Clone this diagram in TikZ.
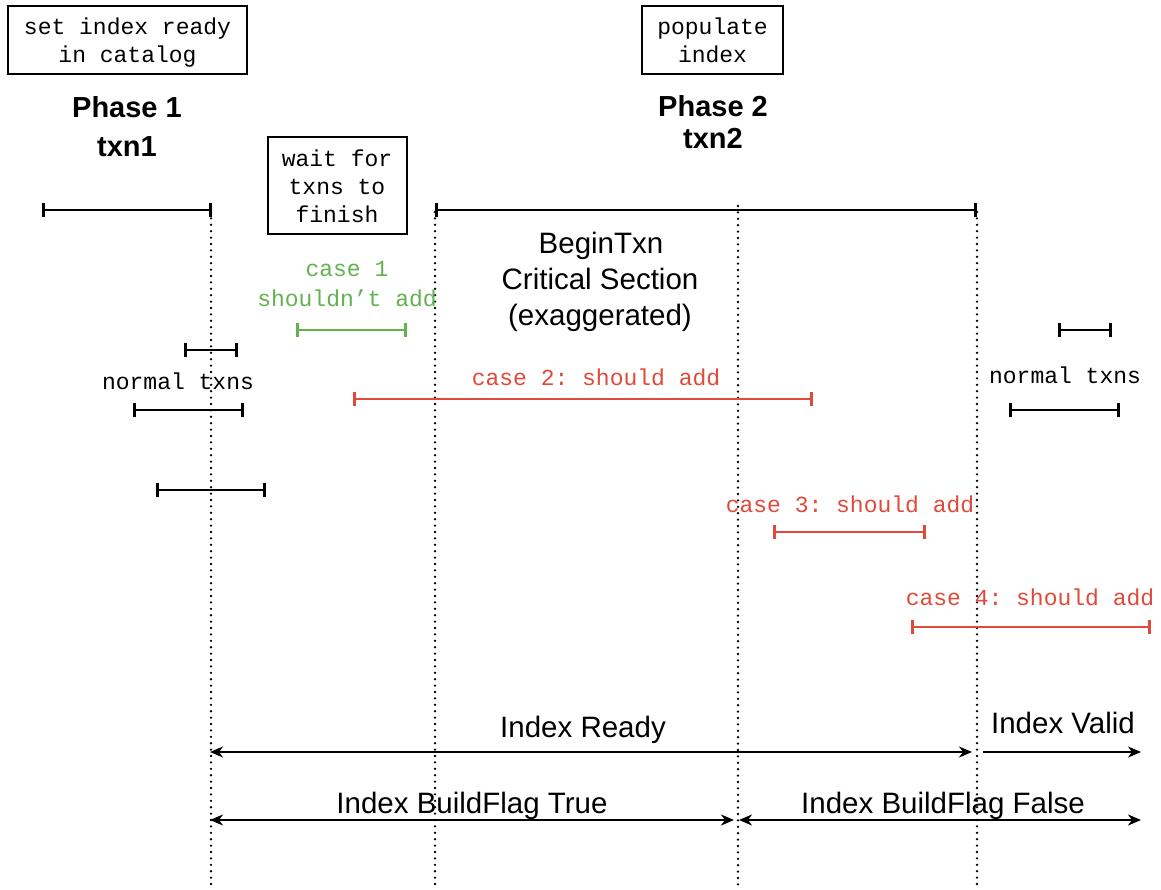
\documentclass[tikz,border=0pt]{standalone}
\usepackage{fontspec}
\setmainfont{Liberation Sans}
\setsansfont{Liberation Sans}
\setmonofont{Liberation Mono}
\usetikzlibrary{arrows.meta}
\definecolor{caseok}{RGB}{98,178,80}
\definecolor{caseadd}{RGB}{224,74,58}

\begin{document}
\begin{tikzpicture}[x=1pt,y=-1pt,
  mono/.style={font=\fontsize{23}{28}\selectfont\ttfamily, inner sep=0pt, align=center},
  sanslbl/.style={font=\fontsize{29.5}{36}\selectfont\sffamily, inner sep=0pt},
  phase/.style={font=\fontsize{29}{36}\selectfont\sffamily\bfseries, inner sep=0pt},
  stepbox/.style={draw, line width=2pt, inner sep=0pt, align=center,
    font=\fontsize{23}{28}\selectfont\ttfamily},
  span/.style={line width=2.6pt, {Bar[width=14pt]}-{Bar[width=14pt]}},
  vline/.style={line width=2.6pt, line cap=round, dash pattern=on 0pt off 6.4pt},
  both/.style={line width=2.2pt, {Stealth[length=13pt,width=11pt,inset=4pt]}-{Stealth[length=13pt,width=11pt,inset=4pt]}},
  fwd/.style={line width=2.2pt, -{Stealth[length=13pt,width=11pt,inset=4pt]}}]

\useasboundingbox (0,0) rectangle (1161,890);
\fill[white] (0,0) rectangle (1161,890);

% step boxes
\node[stepbox, minimum width=239pt, minimum height=68pt] (ready) at (127.5,40) {\rule{0pt}{21pt}set index ready\\in catalog};
\node[stepbox, minimum width=141pt, minimum height=68pt] (populate) at (712.5,40) {populate\\index};
\node[stepbox, minimum width=139pt, minimum height=97pt] (wait) at (337,186) {\rule{0pt}{18pt}wait for\\txns to\\finish};

% phase headings
\node[phase, anchor=base] (ph1) at (127,118) {Phase 1};
\node[phase, anchor=base] (tx1) at (127,157) {txn1};
\node[phase, anchor=base] (ph2) at (713,117) {Phase 2};
\node[phase, anchor=base] (tx2) at (713,149) {txn2};

% vertical time markers
\coordinate (m1t) at (211,212); \coordinate (m1b) at (211,885);
\coordinate (m2t) at (435,212); \coordinate (m2b) at (435,885);
\coordinate (m3t) at (738,206); \coordinate (m3b) at (738,885);
\coordinate (m4t) at (977,212); \coordinate (m4b) at (977,885);
\draw[vline] (m1t) -- (m1b);
\draw[vline] (m2t) -- (m2b);
\draw[vline] (m3t) -- (m3b);
\draw[vline] (m4t) -- (m4b);

% phase spans
\coordinate (s1a) at (42,210); \coordinate (s1b) at (212,210);
\coordinate (s2a) at (435,210); \coordinate (s2b) at (977,210);
\draw[span] (s1a) -- (s1b);
\draw[span] (s2a) -- (s2b);

% critical section label
\node[sanslbl, anchor=base] (bt1) at (601,254) {BeginTxn};
\node[sanslbl, anchor=base] (bt2) at (600,290) {Critical Section};
\node[sanslbl, anchor=base] (bt3) at (600,326) {(exaggerated)};

% normal txns, left
\coordinate (l1a) at (184,350); \coordinate (l1b) at (238,350);
\coordinate (l2a) at (133,410); \coordinate (l2b) at (244,410);
\coordinate (l3a) at (156,490); \coordinate (l3b) at (266,490);
\draw[span] (l1a) -- (l1b);
\draw[span] (l2a) -- (l2b);
\draw[span] (l3a) -- (l3b);
\node[mono, anchor=base] (nl) at (178,389) {normal txns};

% normal txns, right
\coordinate (r1a) at (1058,330); \coordinate (r1b) at (1112,330);
\coordinate (r2a) at (1009,410); \coordinate (r2b) at (1120,410);
\draw[span] (r1a) -- (r1b);
\draw[span] (r2a) -- (r2b);
\node[mono, anchor=base] (nr) at (1065,383) {normal txns};

% case 1
\node[mono, anchor=base, text=caseok] (c1a) at (347,277) {case 1};
\node[mono, anchor=base, text=caseok] (c1b) at (347,307) {shouldn’t add};
\coordinate (k1a) at (296,330); \coordinate (k1b) at (407,330);
\draw[span, caseok] (k1a) -- (k1b);

% case 2
\node[mono, anchor=base, text=caseadd] (c2) at (596,385) {case 2: should add};
\coordinate (k2a) at (353,399); \coordinate (k2b) at (813,399);
\draw[span, caseadd] (k2a) -- (k2b);

% case 3
\node[mono, anchor=base, text=caseadd] (c3) at (850,512) {case 3: should add};
\coordinate (k3a) at (773,532); \coordinate (k3b) at (926,532);
\draw[span, caseadd] (k3a) -- (k3b);

% case 4
\node[mono, anchor=base, text=caseadd] (c4) at (1030,605) {case 4: should add};
\coordinate (k4a) at (911,627); \coordinate (k4b) at (1151,627);
\draw[span, caseadd] (k4a) -- (k4b);

% index state arrows
\coordinate (ira) at (210,752); \coordinate (irb) at (972,752);
\coordinate (iva) at (983,752); \coordinate (ivb) at (1141,752);
\coordinate (bta) at (210,820); \coordinate (btb) at (734,820);
\coordinate (bfa) at (739,820); \coordinate (bfb) at (1141,820);
\draw[both] (ira) -- (irb);
\draw[fwd] (iva) -- (ivb);
\draw[both] (bta) -- (btb);
\draw[both] (bfa) -- (bfb);
\node[sanslbl, anchor=base] (lir) at (583,737) {Index Ready};
\node[sanslbl, anchor=base] (liv) at (1063,733) {Index Valid};
\node[sanslbl, anchor=base] (lbt) at (472,813) {Index BuildFlag True};
\node[sanslbl, anchor=base] (lbf) at (943,813) {Index BuildFlag False};

\end{tikzpicture}
\end{document}
